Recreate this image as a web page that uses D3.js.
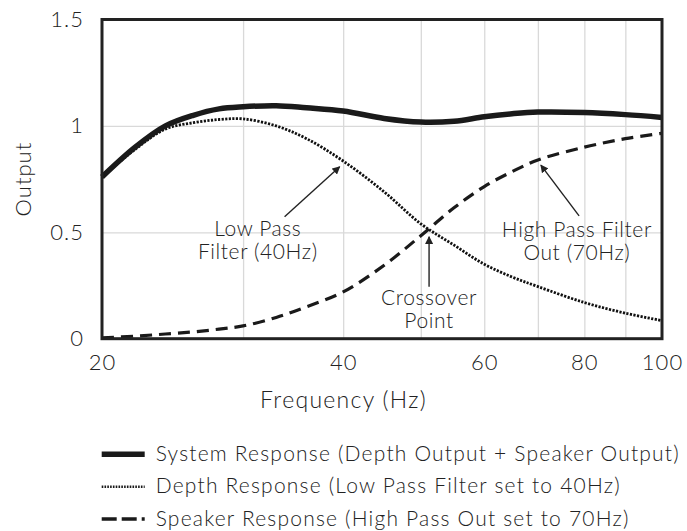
<!DOCTYPE html>
<html>
<head>
<meta charset="utf-8">
<script src="https://cdn.jsdelivr.net/npm/d3@7"></script>
<style>
  body { margin: 0; background: #fff; }
  text { font-family: Lato, "Open Sans", sans-serif; font-weight: 300; fill: #222; }
</style>
</head>
<body>
<div id="chart"></div>
<script>
// chart data
var freqs   = [20, 22, 24, 26, 28, 30, 33, 36, 40, 45, 50, 55, 60, 65, 70, 80, 90, 100];
var system  = [0.76, 0.90, 1.00, 1.05, 1.08, 1.09, 1.095, 1.085, 1.07, 1.035, 1.018, 1.022, 1.043, 1.057, 1.065, 1.063, 1.053, 1.04];
var depth   = [0.76, 0.89, 0.985, 1.015, 1.03, 1.033, 1.00, 0.94, 0.835, 0.69, 0.54, 0.44, 0.35, 0.29, 0.245, 0.17, 0.12, 0.085];
var speaker = [0.004, 0.012, 0.022, 0.032, 0.045, 0.06, 0.10, 0.15, 0.22, 0.345, 0.484, 0.615, 0.715, 0.785, 0.84, 0.90, 0.94, 0.965];

var xTicks = [20, 40, 60, 80, 100];
var xGrid = [30, 40, 50, 60, 70, 80, 90];
var yTicks = [0, 0.5, 1, 1.5];
var yGrid = [0.5, 1];

var legendLabels = [
  "System Response (Depth Output + Speaker Output)",
  "Depth Response (Low Pass Filter set to 40Hz)",
  "Speaker Response (High Pass Out set to 70Hz)"
];

// annotations: text lines at (f, v), arrow from (f1,v1) to (f2,v2)
var notes = [
  { lines: ["Low Pass", "Filter (40Hz)"], f: 31.3, v: 0.484, f1: 33.8, v1: 0.573, f2: 39.6, v2: 0.808 },
  { lines: ["Crossover", "Point"], f: 51.2, v: 0.158, f1: 51.2, v1: 0.244, f2: 51.2, v2: 0.479 },
  { lines: ["High Pass Filter", "Out (70Hz)"], f: 78.3, v: 0.479, f1: 78.8, v1: 0.577, f2: 70.6, v2: 0.816 }
];

var svgWidth = 687;
var svgHeight = 531;
var margin = { top: 19.5, right: 25, bottom: 192.3, left: 102 };
var width = svgWidth - margin.left - margin.right;
var height = svgHeight - margin.top - margin.bottom;

var svg = d3.select("#chart")
  .append("svg")
  .attr("width", svgWidth)
  .attr("height", svgHeight);

var defs = svg.append("defs");
defs.append("marker")
  .attr("id", "arrow")
  .attr("viewBox", "0 0 10 10")
  .attr("refX", 9)
  .attr("refY", 5)
  .attr("markerWidth", 8)
  .attr("markerHeight", 8)
  .attr("markerUnits", "userSpaceOnUse")
  .attr("orient", "auto")
  .append("path")
  .attr("d", "M0,0 L10,5 L0,10 Z")
  .attr("fill", "#222");

var chartGroup = svg.append("g")
  .attr("transform", `translate(${margin.left}, ${margin.top})`);

var x = d3.scaleLog().domain([20, 100]).range([0, width]);
var y = d3.scaleLinear().domain([0, 1.5]).range([height, 0]);

// grid
chartGroup.append("g")
  .attr("class", "grid")
  .attr("transform", `translate(0, ${height})`)
  .call(d3.axisBottom(x).tickValues(xGrid).tickSize(-height).tickFormat(""))
  .call(g => g.select(".domain").remove())
  .call(g => g.selectAll("line").attr("stroke", "#d9d9d9").attr("stroke-width", 1.3));

chartGroup.append("g")
  .attr("class", "grid")
  .call(d3.axisLeft(y).tickValues(yGrid).tickSize(-width).tickFormat(""))
  .call(g => g.select(".domain").remove())
  .call(g => g.selectAll("line").attr("stroke", "#d9d9d9").attr("stroke-width", 1.3));

// tick labels
chartGroup.append("g")
  .attr("transform", `translate(0, ${height})`)
  .call(d3.axisBottom(x).tickValues(xTicks).tickSize(0).tickPadding(16).tickFormat(d3.format("d")))
  .call(g => g.select(".domain").remove())
  .call(g => g.selectAll("text").attr("font-size", 22).attr("letter-spacing", 1).attr("font-family", null).attr("fill", "#222"));

chartGroup.append("g")
  .call(d3.axisLeft(y).tickValues(yTicks).tickSize(0).tickPadding(18).tickFormat(d => d))
  .call(g => g.select(".domain").remove())
  .call(g => g.selectAll("text").attr("font-size", 22).attr("letter-spacing", 1).attr("font-family", null).attr("fill", "#222"));

// curves
var line = d3.line()
  .x(d => x(d[0]))
  .y(d => y(d[1]))
  .curve(d3.curveCatmullRom.alpha(0.5));

chartGroup.append("path")
  .datum(freqs.map((f, i) => [f, speaker[i]]))
  .attr("d", line)
  .attr("fill", "none")
  .attr("stroke", "#1a1a1a")
  .attr("stroke-width", 3.2)
  .attr("stroke-dasharray", "12,7");

chartGroup.append("path")
  .datum(freqs.map((f, i) => [f, depth[i]]))
  .attr("d", line)
  .attr("fill", "none")
  .attr("stroke", "#111")
  .attr("stroke-width", 2.8)
  .attr("stroke-dasharray", "2.2,1.4");

chartGroup.append("path")
  .datum(freqs.map((f, i) => [f, system[i]]))
  .attr("d", line)
  .attr("fill", "none")
  .attr("stroke", "#1a1a1a")
  .attr("stroke-width", 5.5);

// frame
chartGroup.append("rect")
  .attr("width", width)
  .attr("height", height)
  .attr("fill", "none")
  .attr("stroke", "#222")
  .attr("stroke-width", 3);

// annotations
notes.forEach(function(n) {
  chartGroup.append("line")
    .attr("x1", x(n.f1)).attr("y1", y(n.v1))
    .attr("x2", x(n.f2)).attr("y2", y(n.v2))
    .attr("stroke", "#222")
    .attr("stroke-width", 1.4)
    .attr("marker-end", "url(#arrow)");

  chartGroup.append("text")
    .attr("x", x(n.f))
    .attr("y", y(n.v))
    .attr("text-anchor", "middle")
    .attr("font-size", 21)
    .attr("letter-spacing", 0.6)
    .selectAll("tspan")
    .data(n.lines)
    .enter()
    .append("tspan")
    .attr("x", x(n.f))
    .attr("dy", (d, i) => i === 0 ? 0 : 23)
    .text(d => d);
});

// axis titles
svg.append("text")
  .attr("x", svgWidth / 2)
  .attr("y", 408)
  .attr("text-anchor", "middle")
  .attr("font-size", 23)
  .attr("letter-spacing", 1.3)
  .text("Frequency (Hz)");

svg.append("text")
  .attr("transform", `translate(31, ${margin.top + height / 2}) rotate(-90)`)
  .attr("text-anchor", "middle")
  .attr("font-size", 22)
  .attr("letter-spacing", 1)
  .text("Output");

// legend
var legendStyles = [
  { w: 5.5, dash: null },
  { w: 2.4, dash: "1.6,1.2" },
  { w: 3.5, dash: "15,5" }
];

var legend = svg.append("g").attr("transform", "translate(101.7, 454.3)");
legendLabels.forEach(function(label, i) {
  var row = legend.append("g").attr("transform", `translate(0, ${i * 32.4})`);
  row.append("line")
    .attr("x1", 0).attr("x2", 43)
    .attr("stroke", "#1a1a1a")
    .attr("stroke-width", legendStyles[i].w)
    .attr("stroke-dasharray", legendStyles[i].dash);
  row.append("text")
    .attr("x", 54)
    .attr("y", 6.5)
    .attr("font-size", 21)
    .attr("letter-spacing", 1.2)
    .text(label);
});
</script>
</body>
</html>
